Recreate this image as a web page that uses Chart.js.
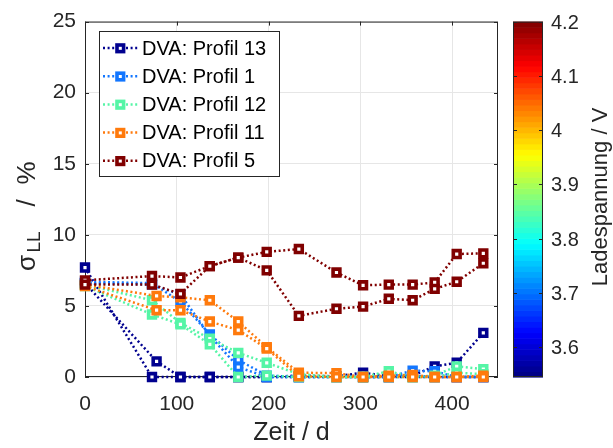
<!DOCTYPE html>
<html>
<head>
<meta charset="utf-8">
<script src="https://cdn.jsdelivr.net/npm/chart.js@4.4.0/dist/chart.umd.min.js"></script>
<style>
  html, body { margin: 0; padding: 0; background: #fff; }
  #wrap { width: 613px; height: 448px; }
</style>
</head>
<body>
<div id="wrap"><canvas id="grafico" width="613" height="448"></canvas></div>
<script>
// Messzeitpunkte in Tagen (zweite Messung bei manchen Profilen etwas später)
const zeit = [0, 73, 104, 136, 167, 198, 233, 274, 303, 331, 357, 381, 405, 434];
const zeitSpaet = [0, 78, 104, 136, 167, 198, 233, 274, 303, 331, 357, 381, 405, 434];

// sigma_LL in % je Zelle (a/b) und Profil
const profil13a = [7.7, 0, 0, 0, 0, 0, 0.1, 0.05, 0.3, 0.05, 0.1, 0.75, 1.0, 3.1];
const profil13b = [6.6, 1.1, 0, 0, 0, 0, 0, 0, 0, 0, 0, 0, 0, 0];
const profil1a = [6.7, 6.6, 5.3, 3.0, 1.2, 0.1, 0, 0, 0, 0, 0.45, 0.4, 0, 0];
const profil1b = [6.6, 6.5, 5.8, 2.9, 0.7, 0, 0, 0.05, 0, 0, 0.1, 0, 0, 0];
const profil12a = [6.5, 5.4, 3.8, 2.7, 1.7, 1.0, 0.2, 0, 0, 0.4, 0, 0.1, 0.75, 0.55];
const profil12b = [6.4, 4.4, 3.7, 2.3, 0, 0.1, 0, 0, 0, 0, 0, 0, 0.3, 0.2];
const profil11a = [6.5, 5.7, 5.6, 5.4, 3.9, 2.1, 0.3, 0.27, 0, 0.1, 0.15, 0, 0, 0.1];
const profil11b = [6.4, 4.7, 4.7, 3.9, 3.3, 2.0, 0.05, 0, 0, 0, 0, 0, 0, 0];
const profil5a = [6.8, 7.1, 7.0, 7.8, 8.4, 8.8, 9.0, 7.35, 6.45, 6.5, 6.5, 6.65, 8.65, 8.7];
const profil5b = [6.5, 6.5, 5.85, 7.8, 8.4, 7.5, 4.3, 4.8, 4.95, 5.5, 5.4, 6.2, 6.7, 8.0];

const profilNamen = ["DVA: Profil 13", "DVA: Profil 1", "DVA: Profil 12", "DVA: Profil 11", "DVA: Profil 5"];
const profilFarben = ['#00008f', '#1276ff', '#55f5a6', '#ff7a0c', '#800000'];

// Farbskala Ladespannung
const spannungMin = 3.545;
const spannungMax = 4.2;
const spannungTicks = [3.6, 3.7, 3.8, 3.9, 4.0, 4.1, 4.2];

const xTicks = [0, 100, 200, 300, 400];
const yTicks = [0, 5, 10, 15, 20, 25];

const serien = [
  { name: 0, zeit: zeit, werte: profil13a },
  { name: 0, zeit: zeitSpaet, werte: profil13b },
  { name: 1, zeit: zeit, werte: profil1a },
  { name: 1, zeit: zeit, werte: profil1b },
  { name: 2, zeit: zeit, werte: profil12a },
  { name: 2, zeit: zeit, werte: profil12b },
  { name: 3, zeit: zeitSpaet, werte: profil11a },
  { name: 3, zeit: zeitSpaet, werte: profil11b },
  { name: 4, zeit: zeit, werte: profil5a },
  { name: 4, zeit: zeit, werte: profil5b },
];

const schrift = "'Liberation Sans', Arial, Helvetica, sans-serif";
const textFarbe = '#262626';

function jet(t) {
  const k = (v) => Math.round(255 * Math.min(1, Math.max(0, v)));
  return `rgb(${k(1.5 - Math.abs(4 * t - 3))},${k(1.5 - Math.abs(4 * t - 2))},${k(1.5 - Math.abs(4 * t - 1))})`;
}

const datasets = serien.map((s, i) => {
  const farbe = profilFarben[s.name];
  return {
    label: profilNamen[s.name],
    data: s.zeit.map((x, j) => ({ x: x, y: s.werte[j] })),
    borderColor: farbe,
    backgroundColor: '#ffffff',
    borderWidth: 2.5,
    borderDash: [2, 2.6],
    borderCapStyle: 'butt',
    tension: 0,
    pointStyle: 'rect',
    pointRadius: 4.8,
    pointBorderWidth: 3.6,
    pointBorderColor: farbe,
    pointBackgroundColor: '#ffffff',
    clip: false,
    order: serien.length - i
  };
});

// Rahmen mit Innen-Ticks, Legende, Farbbalken und y-Beschriftung
const zusatz = {
  id: 'zusatz',
  beforeDatasetsDraw(chart) {
    const { ctx, chartArea: a, scales } = chart;
    ctx.save();
    ctx.strokeStyle = textFarbe;
    ctx.lineWidth = 1;
    ctx.strokeRect(a.left + 0.5, a.top + 0.5, a.right - a.left - 1, a.bottom - a.top - 1);
    ctx.beginPath();
    for (const v of xTicks) {
      const x = Math.round(scales.x.getPixelForValue(v)) + 0.5;
      ctx.moveTo(x, a.bottom); ctx.lineTo(x, a.bottom - 4);
      ctx.moveTo(x, a.top); ctx.lineTo(x, a.top + 4);
    }
    for (const v of yTicks) {
      const y = Math.round(scales.y.getPixelForValue(v)) + 0.5;
      ctx.moveTo(a.left, y); ctx.lineTo(a.left + 4, y);
      ctx.moveTo(a.right, y); ctx.lineTo(a.right - 4, y);
    }
    ctx.stroke();
    ctx.restore();
  },
  afterDatasetsDraw(chart) {
    const { ctx, chartArea: a } = chart;
    ctx.save();

    // Legende
    const lx = 99, ly = 31, lw = 180, lh = 145;
    ctx.fillStyle = '#fff';
    ctx.fillRect(lx, ly, lw, lh);
    ctx.strokeStyle = textFarbe;
    ctx.lineWidth = 1;
    ctx.strokeRect(lx + 0.5, ly + 0.5, lw, lh);
    profilNamen.forEach((name, i) => {
      const y = 48 + i * 28.2;
      const farbe = profilFarben[i];
      ctx.strokeStyle = farbe;
      ctx.lineWidth = 2.5;
      ctx.setLineDash([2, 2.6]);
      ctx.beginPath();
      ctx.moveTo(103, y); ctx.lineTo(138, y);
      ctx.stroke();
      ctx.setLineDash([]);
      ctx.lineWidth = 3.6;
      ctx.fillStyle = '#fff';
      ctx.fillRect(117, y - 3, 6.6, 6.6);
      ctx.strokeRect(117, y - 3, 6.6, 6.6);
      ctx.fillStyle = '#000';
      ctx.font = `20px ${schrift}`;
      ctx.textBaseline = 'middle';
      ctx.textAlign = 'left';
      ctx.fillText(name, 142, y + 1);
    });

    // Farbbalken
    const cx = 513, cw = 30, top = a.top, bottom = a.bottom;
    const stufen = 64;
    const h = (bottom - top) / stufen;
    for (let k = 0; k < stufen; k++) {
      ctx.fillStyle = jet((k + 0.5) / stufen);
      ctx.fillRect(cx, bottom - (k + 1) * h, cw, h + 0.6);
    }
    ctx.strokeStyle = textFarbe;
    ctx.lineWidth = 1;
    ctx.strokeRect(cx + 0.5, top + 0.5, cw - 1, bottom - top - 1);
    ctx.font = `20px ${schrift}`;
    ctx.fillStyle = textFarbe;
    ctx.textAlign = 'left';
    ctx.textBaseline = 'middle';
    ctx.beginPath();
    for (const v of spannungTicks) {
      const y = Math.round(bottom - (v - spannungMin) / (spannungMax - spannungMin) * (bottom - top)) + 0.5;
      ctx.moveTo(cx, y); ctx.lineTo(cx + 4, y);
      ctx.moveTo(cx + cw, y); ctx.lineTo(cx + cw - 4, y);
      ctx.fillText(v === 4 ? '4' : v.toFixed(1), 551, y + 1);
    }
    ctx.stroke();

    ctx.save();
    ctx.translate(601, 197);
    ctx.rotate(-Math.PI / 2);
    ctx.font = `22px ${schrift}`;
    ctx.textAlign = 'center';
    ctx.fillText('Ladespannung / V', 0, 0);
    ctx.restore();

    // y-Achsenbeschriftung mit Index (TeX-artige Abstände)
    ctx.save();
    ctx.translate(28, 0);
    ctx.rotate(-Math.PI / 2);
    ctx.textAlign = 'center';
    ctx.textBaseline = 'middle';
    const gross = `26px ${schrift}`, klein = `19px ${schrift}`;
    ctx.font = gross; ctx.fillText('σ', -263, 0);
    ctx.font = klein; ctx.fillText('LL', -242, 7);
    ctx.font = gross; ctx.fillText('/', -203, 0);
    ctx.fillText('%', -173, 0);
    ctx.restore();

    ctx.restore();
  }
};

new Chart(document.getElementById('grafico').getContext('2d'), {
  type: 'line',
  data: { datasets },
  options: {
    responsive: false,
    devicePixelRatio: 1,
    animation: false,
    layout: { padding: { left: 0, right: 115, top: 14, bottom: 0 } },
    plugins: { legend: { display: false }, tooltip: { enabled: false } },
    scales: {
      x: {
        type: 'linear',
        min: 0, max: 450,
        afterFit(scale) { scale.height = 71; },
        afterBuildTicks(scale) { scale.ticks = xTicks.map(v => ({ value: v })); },
        grid: { color: '#e6e6e6', drawTicks: false },
        border: { display: false },
        ticks: { padding: 15, color: textFarbe, font: { family: schrift, size: 21 } },
        title: { display: true, text: 'Zeit / d', color: textFarbe, font: { family: schrift, size: 25 }, padding: { top: 0, bottom: 0 } }
      },
      y: {
        min: 0, max: 25,
        afterFit(scale) { scale.width = 85; },
        afterBuildTicks(scale) { scale.ticks = yTicks.map(v => ({ value: v })); },
        grid: { color: '#e6e6e6', drawTicks: false },
        border: { display: false },
        ticks: { padding: 9, color: textFarbe, font: { family: schrift, size: 21 } }
      }
    }
  },
  plugins: [zusatz]
});
</script>
</body>
</html>
